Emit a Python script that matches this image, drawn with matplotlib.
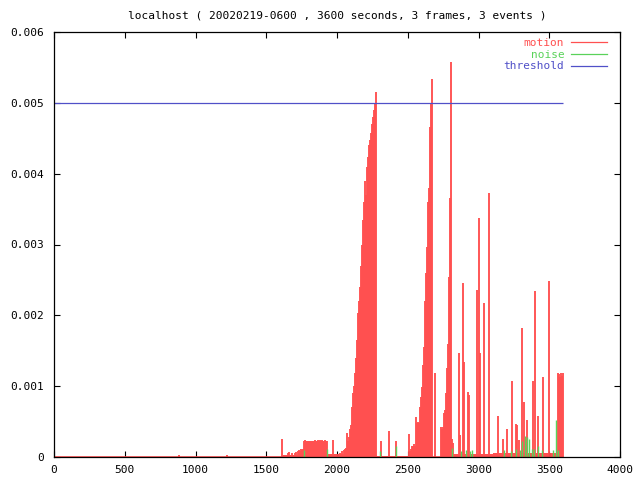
import matplotlib
matplotlib.use("Agg")
import matplotlib.pyplot as plt
from matplotlib.lines import Line2D

title = "localhost ( 20020219-0600 , 3600 seconds, 3 frames, 3 events )"
span_seconds = 3600
threshold = 0.005

# motion impulses (second, value)
motion_t = [
    883, 1223,
    1613, 1654, 1663, 1682, 1703, 1710, 1724, 1731, 1739, 1746, 1753, 1760,
    # flat block
    1767, 1774, 1781, 1788, 1795, 1802, 1809, 1816, 1823, 1830, 1837, 1844,
    1851, 1858, 1865, 1872, 1879, 1886, 1893, 1900, 1907, 1914, 1921, 1927,
    1936, 1974, 2000, 2021, 2035, 2049, 2057, 2064, 2071,
    # first ramp
    2078, 2085, 2092, 2099, 2106, 2113, 2120, 2127, 2134, 2141, 2148, 2155,
    2163, 2170, 2177, 2184, 2191, 2198, 2205, 2212, 2219, 2226, 2233, 2240,
    2247, 2254, 2261, 2268, 2275,
    2311, 2370, 2417, 2509,
    # second ramp
    2516, 2523, 2530, 2537, 2544, 2551, 2558, 2565, 2572, 2580, 2587, 2594,
    2601, 2608, 2615, 2622, 2629, 2636, 2643, 2650, 2657, 2664, 2671,
    2695,
    # third ramp
    2735, 2742, 2749, 2756, 2763, 2770, 2777, 2784, 2791, 2799, 2806, 2813, 2820,
    # sparse spikes
    2865, 2869, 2893, 2900, 2928, 2935, 2987, 3006, 3013, 3037, 3076, 3135,
    3175, 3199, 3235, 3263, 3270, 3288, 3305, 3324, 3345, 3387, 3401, 3423,
    3458, 3500,
    # last block
    3562, 3569, 3576, 3583, 3590, 3597,
]
motion_v = [
    0.00003, 0.00003,
    0.00025, 0.00005, 0.00007, 0.00005, 0.00006, 0.00007, 0.00009, 0.0001, 0.00009, 0.00011, 0.0001, 0.00012,
    0.00022, 0.00024, 0.00022, 0.00022, 0.00023, 0.00022, 0.00022, 0.00022, 0.00023, 0.00022, 0.00022, 0.00024,
    0.00022, 0.00022, 0.00024, 0.00022, 0.00024, 0.00022, 0.00024, 0.00022, 0.00022, 0.00024, 0.00022, 0.00022,
    0.00003, 0.00024, 0.00004, 0.00006, 0.00008, 0.0001, 0.00011, 0.00013, 0.00034,
    0.00022, 0.00028, 0.0004, 0.00045, 0.0007, 0.0009, 0.001, 0.00118, 0.0014, 0.00165, 0.00203, 0.0022,
    0.0024, 0.0027, 0.003, 0.00335, 0.0036, 0.0039, 0.0037, 0.0041, 0.00424, 0.0044, 0.00448, 0.00458,
    0.0047, 0.0048, 0.0049, 0.005, 0.00515,
    0.00022, 0.00037, 0.00023, 0.00033,
    0.00008, 0.00012, 0.00015, 0.00015, 0.00018, 0.00015, 0.00056, 0.00048, 0.0005, 0.00048, 0.0007, 0.00085,
    0.00099, 0.0013, 0.00155, 0.0022, 0.0026, 0.00297, 0.0036, 0.0038, 0.00466, 0.005, 0.00534,
    0.00118,
    0.00043, 0.0004, 0.00043, 0.00062, 0.00066, 0.0009, 0.00125, 0.0016, 0.00254, 0.00366, 0.00558, 0.00026, 0.0002,
    0.00147, 0.00031, 0.00245, 0.00134, 0.00092, 0.00087, 0.00236, 0.00337, 0.00147, 0.00217, 0.00373, 0.00058,
    0.00025, 0.0004, 0.00107, 0.00047, 0.00045, 0.00024, 0.00182, 0.00078, 0.00052, 0.00107, 0.00235, 0.00058,
    0.00113, 0.00248,
    0.00119, 0.00117, 0.00113, 0.00119, 0.00114, 0.00118,
]

# low-level clutter of motion between events: (start, end, level)
floor_start = [1618, 1930, 2280, 2820, 3100]
floor_end = [1767, 2075, 2515, 3100, 3560]
floor_level = [0.00003, 0.00004, 0.00002, 0.00004, 0.00006]

# noise impulses
noise_t = [1767, 1927, 2302, 2417, 2815, 2878, 2914, 2937, 2953, 3177, 3230,
           3264, 3290, 3310, 3330, 3345, 3355, 3375, 3390, 3420, 3450, 3525, 3545, 3560]
noise_v = [0.0001, 0.00011, 0.00008, 0.00015, 0.00013, 0.00008, 0.0001, 0.00009, 0.0001, 0.0001, 0.00008,
           0.00012, 0.0001, 0.00022, 0.0003, 0.00028, 0.00025, 0.00012, 0.00012, 0.00015, 0.0001, 0.0001, 0.00052, 0.0001]

red = "#ff5050"
green = "#5ad25a"
blue = "#5050c8"

plt.rcParams["font.family"] = ["DejaVu Sans Mono"]
plt.rcParams["font.size"] = 8

fig = plt.figure(figsize=(6.4, 4.8), dpi=100)
ax = fig.add_axes([54 / 640, 1 - 457 / 480, 566 / 640, 425 / 480])

ax.bar(floor_start, floor_level, width=[e - s for s, e in zip(floor_start, floor_end)],
       align="edge", color=red, linewidth=0)
ax.hlines(0, 0, span_seconds, color=red, linewidth=1.2)
ax.vlines(motion_t, 0, motion_v, color=red, linewidth=1.35)
ax.vlines(noise_t, 0, noise_v, color=green, linewidth=1.0)
ax.hlines(threshold, 0, span_seconds, color=blue, linewidth=0.9)

ax.set_xlim(0, 4000)
ax.set_ylim(0, 0.006)
ax.set_xticks(range(0, 4001, 500))
ax.set_yticks([0, 0.001, 0.002, 0.003, 0.004, 0.005, 0.006])
ax.set_yticklabels(["0", "0.001", "0.002", "0.003", "0.004", "0.005", "0.006"])
ax.tick_params(direction="in", length=4.5, width=0.8, top=True, right=True, pad=6)
ax.tick_params(axis="y", pad=7)
for s in ax.spines.values():
    s.set_linewidth(0.9)

fig.text(337 / 640, 1 - 15 / 480, title, ha="center", va="center", fontsize=8)

handles = [Line2D([], [], color=red, lw=0.9), Line2D([], [], color=green, lw=0.9),
           Line2D([], [], color=blue, lw=0.9)]
leg = ax.legend(handles, ["motion", "noise", "threshold"], loc="upper right",
                bbox_to_anchor=(0.99, 1.004),
                frameon=False, markerfirst=False, handlelength=3.2, handletextpad=0.6,
                labelspacing=0.15, borderaxespad=0.3, fontsize=8)
for txt, c in zip(leg.get_texts(), [red, green, blue]):
    txt.set_color(c)

fig.savefig("out.png", dpi=100)
